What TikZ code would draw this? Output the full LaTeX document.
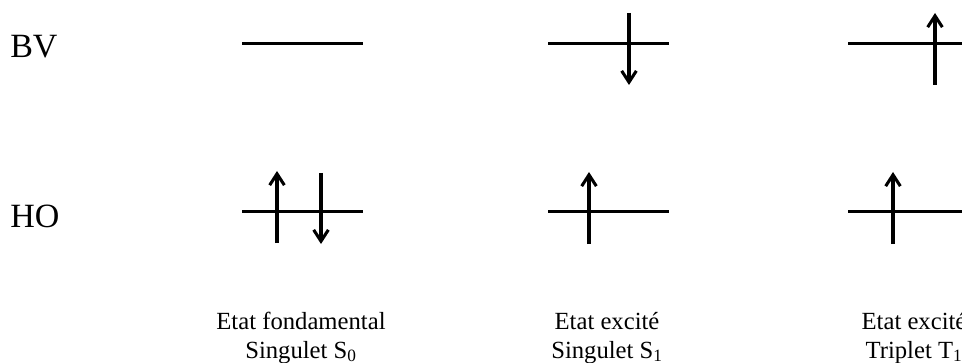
\documentclass[tikz,border=0pt]{standalone}
\usepackage{fontspec}
\setmainfont{Liberation Serif}
\usetikzlibrary{arrows.meta}
\tikzset{
  niveau/.style={line width=2.4pt},
  spin/.style={line width=2.3pt,-{Straight Barb[length=8.5pt,width=11pt,line width=2.3pt]}},
  orb/.style={font=\fontsize{25.5}{30}\selectfont,inner sep=0pt,anchor=base west},
  etat/.style={font=\fontsize{18.5}{21.75}\selectfont,align=center,inner sep=0pt,anchor=base},
}

\begin{document}
\begin{tikzpicture}[x=0.75pt,y=-0.75pt]
\useasboundingbox (0,0) rectangle (962,363);
% orbitals
\node[orb] (bv) at (10,58) {BV};
\node[orb] (ho) at (10,228) {HO};
% energy levels of the three states
\foreach \x in {242,548,848}{
  \draw[niveau] (\x,43.5) -- ++(121,0);
  \draw[niveau] (\x,211.5) -- ++(121,0);
}
% electrons
\draw[spin] (277,243) -- (277,171);
\draw[spin] (321,173) -- (321,244);
\draw[spin] (629,13) -- (629,85);
\draw[spin] (589,244) -- (589,172);
\draw[spin] (935,85) -- (935,13);
\draw[spin] (893,244) -- (893,172);
% state names
\node[etat] (s0) at (301,358) {Etat fondamental\\Singulet S\textsubscript{0}};
\node[etat] (s1) at (607,358) {Etat excité\\Singulet S\textsubscript{1}};
\node[etat] (t1) at (914,358) {Etat excité\\Triplet T\textsubscript{1}};
\end{tikzpicture}
\end{document}
